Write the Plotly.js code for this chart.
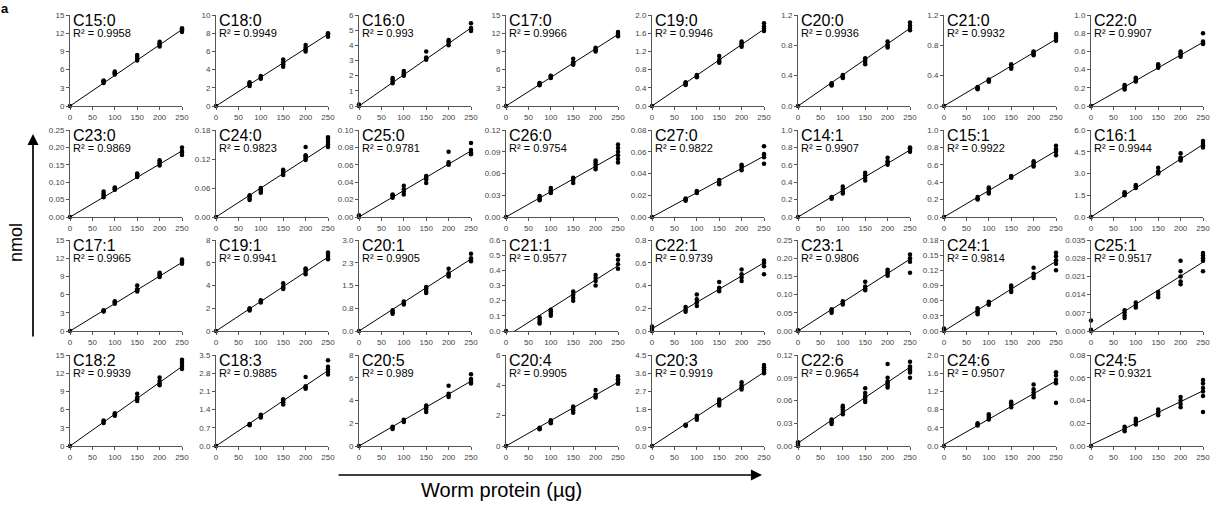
<!DOCTYPE html>
<html><head><meta charset="utf-8">
<script src="https://cdn.plot.ly/plotly-3.0.1.min.js"></script>
<style>html,body{margin:0;padding:0;background:#fff}#chart{width:1216px;height:505px}</style>
</head><body><div id="chart"></div>
<script>
// ---------- DATA ----------
const xLevels = [0, 75, 100, 150, 200, 250]; // worm protein (µg)
const xTickVals = [0, 50, 100, 150, 200, 250];

const panelNames = ["C15:0","C18:0","C16:0","C17:0","C19:0","C20:0","C21:0","C22:0",
  "C23:0","C24:0","C25:0","C26:0","C27:0","C14:1","C15:1","C16:1",
  "C17:1","C19:1","C20:1","C21:1","C22:1","C23:1","C24:1","C25:1",
  "C18:2","C18:3","C20:5","C20:4","C20:3","C22:6","C24:6","C24:5"];

const r2Labels = ["0.9958","0.9949","0.993","0.9966","0.9946","0.9936","0.9932","0.9907",
  "0.9869","0.9823","0.9781","0.9754","0.9822","0.9907","0.9922","0.9944",
  "0.9965","0.9941","0.9905","0.9577","0.9739","0.9806","0.9814","0.9517",
  "0.9939","0.9885","0.989","0.9905","0.9919","0.9654","0.9507","0.9321"];

const yTickVals = [
  [0,3,6,9,12,15],[0,2,4,6,8,10],[0,1,2,3,4,5,6],[0,3,6,9,12,15],
  [0,0.4,0.8,1.2,1.6,2.0],[0,0.4,0.8,1.2],[0,0.4,0.8,1.2],[0,0.2,0.4,0.6,0.8,1.0],
  [0,0.05,0.10,0.15,0.20,0.25],[0,0.06,0.12,0.18],[0,0.02,0.04,0.06,0.08,0.10],[0,0.03,0.06,0.09,0.12],
  [0,0.02,0.04,0.06,0.08],[0,0.2,0.4,0.6,0.8,1.0],[0,0.2,0.4,0.6,0.8,1.0],[0,1.5,3.0,4.5,6.0],
  [0,3,6,9,12,15],[0,2,4,6,8],[0,0.75,1.5,2.25,3.0],[0,0.1,0.2,0.3,0.4,0.5,0.6],
  [0,0.2,0.4,0.6,0.8],[0,0.05,0.10,0.15,0.20,0.25],[0,0.03,0.06,0.09,0.12,0.15,0.18],[0,0.007,0.014,0.021,0.028,0.035],
  [0,3,6,9,12,15],[0,0.7,1.4,2.1,2.8,3.5],[0,2,4,6,8],[0,2,4,6],
  [0,0.9,1.8,2.7,3.6,4.5],[0,0.03,0.06,0.09,0.12],[0,0.4,0.8,1.2,1.6,2.0],[0,0.02,0.04,0.06,0.08]];

const yTickText = [
  ["0","3","6","9","12","15"],["0","2","4","6","8","10"],["0","1","2","3","4","5","6"],["0","3","6","9","12","15"],
  ["0.0","0.4","0.8","1.2","1.6","2.0"],["0.0","0.4","0.8","1.2"],["0.0","0.4","0.8","1.2"],["0.0","0.2","0.4","0.6","0.8","1.0"],
  ["0.00","0.05","0.10","0.15","0.20","0.25"],["0.00","0.06","0.12","0.18"],["0.00","0.02","0.04","0.06","0.08","0.10"],["0.00","0.03","0.06","0.09","0.12"],
  ["0.00","0.02","0.04","0.06","0.08"],["0.0","0.2","0.4","0.6","0.8","1.0"],["0.0","0.2","0.4","0.6","0.8","1.0"],["0.0","1.5","3.0","4.5","6.0"],
  ["0","3","6","9","12","15"],["0","2","4","6","8"],["0.0","0.8","1.5","2.3","3.0"],["0.0","0.1","0.2","0.3","0.4","0.5","0.6"],
  ["0.0","0.2","0.4","0.6","0.8"],["0.00","0.05","0.10","0.15","0.20","0.25"],["0.00","0.03","0.06","0.09","0.12","0.15","0.18"],["0.000","0.007","0.014","0.021","0.028","0.035"],
  ["0","3","6","9","12","15"],["0.0","0.7","1.4","2.1","2.8","3.5"],["0","2","4","6","8"],["0","2","4","6"],
  ["0.0","0.9","1.8","2.7","3.6","4.5"],["0.00","0.03","0.06","0.09","0.12"],["0.0","0.4","0.8","1.2","1.6","2.0"],["0.00","0.02","0.04","0.06","0.08"]];

// measured nmol, one list of replicates per x level (0, 75, 100, 150, 200, 250)
const nmolByPanel = [
  [[0],[3.8,4.0,4.1,4.2],[5.2,5.4,5.5,5.7],[7.5,7.8,8.1,8.4],[9.8,10.1,10.3,10.6],[12.2,12.4,12.6,12.8]],
  [[0],[2.2,2.4,2.5,2.6],[3.0,3.1,3.2,3.3],[4.3,4.6,4.8,5.1],[6.0,6.2,6.4,6.7],[7.6,7.8,7.9,8.0]],
  [[0,0.1],[1.5,1.6,1.75,1.85],[2.0,2.1,2.2,2.3],[3.05,3.15,3.2,3.6],[4.0,4.15,4.25,4.35],[4.95,5.05,5.15,5.45]],
  [[0],[3.4,3.6,3.7,3.8],[4.6,4.8,4.9,5.0],[6.8,7.0,7.2,7.8],[9.0,9.2,9.4,9.6],[11.5,11.7,11.9,12.2]],
  [[0],[0.46,0.48,0.5,0.52],[0.63,0.65,0.66,0.68],[0.95,0.98,1.01,1.1],[1.3,1.34,1.38,1.42],[1.65,1.7,1.75,1.82]],
  [[0],[0.27,0.28,0.29,0.3],[0.37,0.38,0.4,0.41],[0.55,0.58,0.61,0.63],[0.77,0.79,0.81,0.85],[1.0,1.03,1.06,1.1]],
  [[0],[0.22,0.23,0.24,0.25],[0.32,0.33,0.34,0.35],[0.49,0.51,0.53,0.55],[0.67,0.69,0.71,0.72],[0.86,0.89,0.92,0.95]],
  [[0],[0.18,0.2,0.22,0.23],[0.27,0.28,0.3,0.31],[0.42,0.43,0.45,0.46],[0.54,0.56,0.58,0.6],[0.68,0.69,0.71,0.8]],
  [[0],[0.057,0.062,0.067,0.073],[0.078,0.08,0.083,0.085],[0.115,0.118,0.122,0.125],[0.148,0.153,0.158,0.163],[0.178,0.185,0.19,0.2]],
  [[0],[0.035,0.038,0.042,0.045],[0.05,0.054,0.057,0.06],[0.087,0.091,0.095,0.098],[0.118,0.121,0.125,0.128,0.145],[0.145,0.15,0.155,0.16,0.165]],
  [[0,0.002],[0.022,0.024,0.025,0.026],[0.026,0.029,0.032,0.036],[0.039,0.043,0.045,0.047],[0.06,0.061,0.063,0.075],[0.072,0.074,0.077,0.085]],
  [[0],[0.023,0.025,0.027,0.029],[0.033,0.035,0.037,0.04],[0.047,0.051,0.053,0.054],[0.066,0.069,0.072,0.075,0.078],[0.075,0.08,0.085,0.09,0.095,0.1]],
  [[0],[0.015,0.016,0.017],[0.022,0.023,0.024],[0.03,0.032,0.034],[0.043,0.045,0.047,0.048],[0.049,0.055,0.057,0.058,0.065]],
  [[0],[0.21,0.22,0.23],[0.27,0.29,0.32,0.35],[0.42,0.45,0.48,0.51],[0.6,0.62,0.64,0.68],[0.75,0.77,0.79,0.8]],
  [[0],[0.2,0.21,0.23],[0.27,0.29,0.32,0.34],[0.45,0.46,0.47],[0.58,0.6,0.62,0.64],[0.71,0.75,0.78,0.82]],
  [[0],[1.5,1.58,1.65,1.7],[2.0,2.07,2.15,2.2],[3.0,3.08,3.15,3.4],[3.9,3.97,4.05,4.1,4.4],[4.8,4.95,5.1,5.25]],
  [[0],[3.2,3.3,3.4],[4.5,4.65,4.8,4.9],[6.5,6.7,6.9,7.5],[8.9,9.1,9.4,9.6],[11.1,11.3,11.6,11.8]],
  [[0],[1.8,1.9,2.0],[2.5,2.6,2.7],[3.7,3.8,3.9,4.2],[5.0,5.2,5.4,5.5],[6.3,6.5,6.7,6.9]],
  [[0],[0.57,0.62,0.68],[0.87,0.92,0.97],[1.25,1.32,1.4,1.45],[1.8,1.85,1.9,2.05],[2.3,2.35,2.4,2.55]],
  [[0],[0.05,0.06,0.075,0.09],[0.1,0.115,0.13,0.14],[0.2,0.22,0.24,0.26],[0.3,0.33,0.35,0.37],[0.41,0.44,0.47,0.5]],
  [[0,0.02,0.04],[0.17,0.19,0.21],[0.22,0.25,0.28,0.32],[0.35,0.37,0.38,0.43],[0.44,0.47,0.5,0.54],[0.5,0.57,0.6,0.62]],
  [[0,0.002],[0.05,0.055,0.06],[0.073,0.077,0.082],[0.112,0.117,0.122,0.135],[0.152,0.158,0.163,0.168],[0.16,0.19,0.2,0.21]],
  [[0,0.005],[0.033,0.037,0.041,0.045],[0.052,0.055,0.058],[0.077,0.081,0.086,0.09],[0.105,0.109,0.113,0.125],[0.12,0.133,0.14,0.148,0.155]],
  [[0,0.0005,0.004],[0.005,0.006,0.007,0.008],[0.009,0.010,0.011],[0.013,0.014,0.015],[0.018,0.019,0.021,0.023,0.027],[0.023,0.027,0.028,0.029,0.030]],
  [[0],[3.8,4.0,4.2],[5.0,5.2,5.4],[7.4,7.7,8.0,8.6],[10.0,10.3,10.7,11.3],[12.7,13.1,13.5,13.9,14.2]],
  [[0],[0.8,0.82,0.85],[1.1,1.15,1.2],[1.6,1.68,1.75,1.8],[2.2,2.25,2.3,2.65],[2.75,2.85,2.95,3.05,3.3]],
  [[0],[1.5,1.6,1.7],[2.1,2.2,2.3],[3.0,3.2,3.4,3.55],[4.3,4.45,4.6,5.3],[5.5,5.65,5.8,5.9,6.3]],
  [[0],[1.1,1.15,1.2],[1.5,1.6,1.7],[2.2,2.35,2.5,2.6],[3.2,3.3,3.4,3.7],[4.1,4.2,4.35,4.4,4.6]],
  [[0],[1.0,1.03,1.05],[1.3,1.4,1.5],[2.0,2.1,2.2,2.3],[2.8,2.9,3.0,3.15],[3.6,3.7,3.8,3.9,4.0]],
  [[0,0.002,0.005],[0.029,0.031,0.033,0.035],[0.042,0.045,0.048,0.051,0.053],[0.058,0.061,0.064,0.066,0.07,0.076],[0.077,0.08,0.083,0.085,0.09,0.108],[0.09,0.097,0.1,0.103,0.105,0.111]],
  [[0],[0.45,0.47,0.5],[0.58,0.62,0.66,0.7],[0.85,0.9,0.94,0.97],[1.07,1.12,1.18,1.25,1.35],[0.95,1.38,1.45,1.55,1.62]],
  [[0],[0.013,0.015,0.017],[0.019,0.021,0.022,0.024],[0.027,0.029,0.03,0.032],[0.034,0.037,0.04,0.043],[0.03,0.044,0.048,0.051,0.055,0.058]]
];

// linear trendline (nmol = slope * µg + intercept)
const fitSlope = [0.0504,0.0316,0.0206,0.0472,0.00675,0.0041,0.00352,0.0028,
  0.00076,0.0006,0.000304,0.00035,0.000224,0.00308,0.00304,0.02,
  0.0452,0.026,0.0095,0.00187,0.00232,0.00079,0.000552,0.000108,
  0.0524,0.0116,0.0228,0.0168,0.0146,0.0004,0.0056,0.00019];
const fitIntercept = [0,0,0,0,0,0,0,0,
  0,0,0,0,0,0,0,0,
  0,0,0,-0.037,0.02,0,0,-0.0005,
  0,0,0,0,0,0.004,0.03,0.001];

// ---------- LAYOUT / DRAW ----------
const W = 1216, H = 505;
const colLeft = [70, 216, 359, 506, 652, 798, 944, 1091];
const plotW = 112;
const rowTop = [15, 130, 240, 355];
const rowBottom = [106, 217, 331, 446];
const FONT = "Liberation Sans, Arial, sans-serif";

const traces = [];
const layout = {
  width: W, height: H, margin: {l:0, r:0, t:0, b:0},
  paper_bgcolor: "#fff", plot_bgcolor: "rgba(0,0,0,0)",
  showlegend: false, font: {family: FONT, color: "#000"},
  annotations: []
};

panelNames.forEach((name, i) => {
  const r = Math.floor(i / 8), c = i % 8, n = i + 1;
  const xs = n === 1 ? "x" : "x" + n, ys = n === 1 ? "y" : "y" + n;
  const px = [], py = [];
  nmolByPanel[i].forEach((reps, k) => reps.forEach(v => { px.push(xLevels[k]); py.push(v); }));
  traces.push({type: "scatter", mode: "markers", x: px, y: py, xaxis: xs, yaxis: ys,
    marker: {color: "#000", size: 4.5}, cliponaxis: false, hoverinfo: "skip"});
  const xr = [xLevels[0], xLevels[xLevels.length - 1]];
  traces.push({type: "scatter", mode: "lines", x: xr,
    y: xr.map(v => fitSlope[i] * v + fitIntercept[i]), xaxis: xs, yaxis: ys,
    line: {color: "#000", width: 1}, hoverinfo: "skip"});
  const tv = yTickVals[i];
  const axStyle = {showline: true, linecolor: "#555", linewidth: 1, ticks: "outside",
    ticklen: 3, tickcolor: "#555", showgrid: false, zeroline: false, fixedrange: true,
    tickfont: {size: 8, color: "#444", family: FONT}};
  layout[n === 1 ? "xaxis" : "xaxis" + n] = Object.assign({}, axStyle, {
    domain: [colLeft[c] / W, (colLeft[c] + plotW) / W], anchor: ys,
    range: [0, 250], tickmode: "array", tickvals: xTickVals, ticktext: xTickVals.map(String)});
  layout[n === 1 ? "yaxis" : "yaxis" + n] = Object.assign({}, axStyle, {
    domain: [1 - rowBottom[r] / H, 1 - rowTop[r] / H], anchor: xs,
    range: [0, tv[tv.length - 1]], tickmode: "array", tickvals: tv, ticktext: yTickText[i]});
  const ph = rowBottom[r] - rowTop[r];
  layout.annotations.push({xref: xs + " domain", yref: ys + " domain", x: 0.02, y: 1 - 5 / ph,
    xanchor: "left", yanchor: "middle", showarrow: false, text: name, borderpad: 0,
    font: {size: 16, family: FONT, color: "#000"}});
  layout.annotations.push({xref: xs + " domain", yref: ys + " domain", x: 0.02, y: 1 - 17.5 / ph,
    xanchor: "left", yanchor: "middle", showarrow: false, text: "R² = " + r2Labels[i], borderpad: 0,
    font: {size: 11, family: FONT, color: "#000"}});
});

// axis captions with arrows
layout.annotations.push({xref: "paper", yref: "paper", x: 33 / W, y: 1 - 134 / H,
  ax: 0, ay: 204, axref: "pixel", ayref: "pixel", showarrow: true, arrowhead: 2,
  arrowsize: 1.3, arrowwidth: 1.7, arrowcolor: "#000", text: ""});
layout.annotations.push({xref: "paper", yref: "paper", x: 16 / W, y: 1 - 243 / H,
  xanchor: "center", yanchor: "middle", showarrow: false, text: "nmol", textangle: -90,
  font: {size: 18, family: FONT, color: "#000"}});
layout.annotations.push({xref: "paper", yref: "paper", x: 762 / W, y: 1 - 475 / H,
  ax: -425, ay: 0, axref: "pixel", ayref: "pixel", showarrow: true, arrowhead: 2,
  arrowsize: 1.3, arrowwidth: 1.7, arrowcolor: "#000", text: ""});
layout.annotations.push({xref: "paper", yref: "paper", x: 501 / W, y: 1 - 490 / H,
  xanchor: "center", yanchor: "middle", showarrow: false, text: "Worm protein (µg)",
  font: {size: 20, family: FONT, color: "#000"}});
layout.annotations.push({xref: "paper", yref: "paper", x: 0, y: 1,
  xanchor: "left", yanchor: "top", showarrow: false, text: "<b>a</b>", borderpad: 0,
  font: {size: 13, family: FONT, color: "#000"}});

Plotly.newPlot("chart", traces, layout, {staticPlot: true, displayModeBar: false});
</script>
</body></html>
